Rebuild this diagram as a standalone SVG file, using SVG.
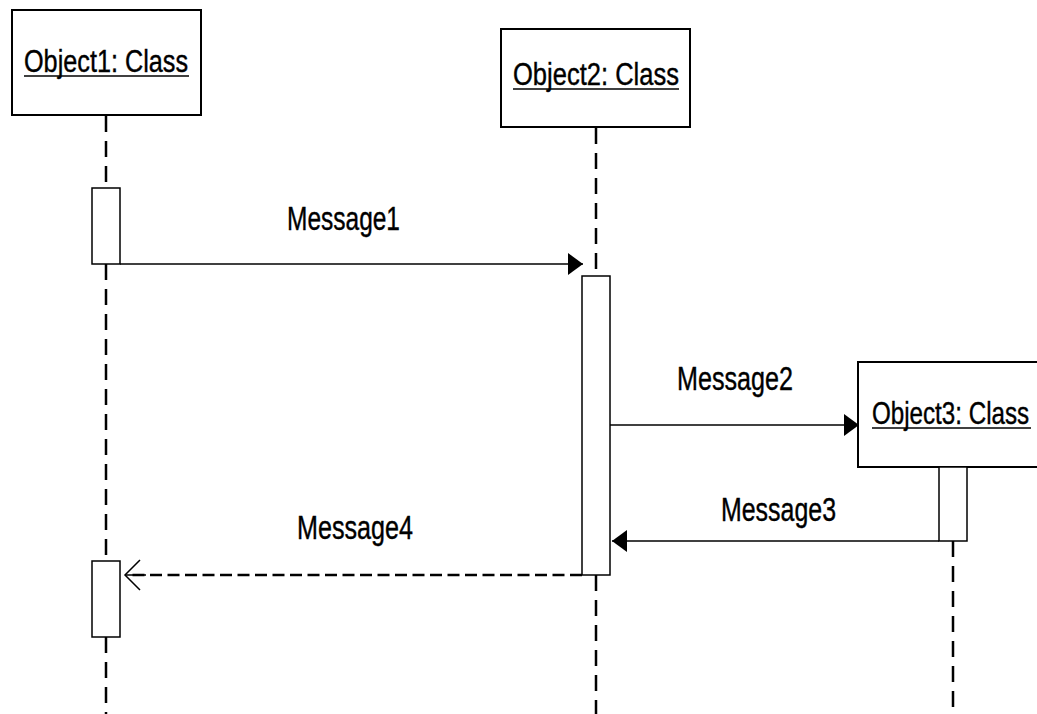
<svg xmlns="http://www.w3.org/2000/svg" width="1037" height="714" viewBox="0 0 1037 714">
  <style>
    .obj { fill: #fff; stroke: #000; stroke-width: 2; }
    .act { fill: #fff; stroke: #000; stroke-width: 1.5; }
    .life { stroke: #000; stroke-width: 2.5; stroke-dasharray: 16 9; fill: none; }
    .msg { stroke: #000; stroke-width: 1.5; fill: none; }
    .ret { stroke: #000; stroke-width: 2.5; stroke-dasharray: 12 5.5; fill: none; }
    .uline { stroke: #000; stroke-width: 1.5; }
    .otxt { font-family: "Liberation Sans", Arial, sans-serif; font-size: 31px; fill: #000; stroke: #000; stroke-width: 0.4; }
    .mtxt { font-family: "Liberation Sans", Arial, sans-serif; font-size: 33px; fill: #000; stroke: #000; stroke-width: 0.4; }
  </style>
  <defs>
    <marker id="filled" markerUnits="userSpaceOnUse" markerWidth="16" markerHeight="22" refX="15" refY="11" orient="auto" viewBox="0 0 16 22">
      <path d="M0,0 L15,11 L0,22 Z" fill="#000"/>
    </marker>
  </defs>

  <!-- lifelines -->
  <g id="lifelines">
    <line class="life" x1="106" y1="116" x2="106" y2="188"/>
    <line class="life" x1="106" y1="264" x2="106" y2="561"/>
    <line class="life" x1="106" y1="637" x2="106" y2="714"/>
    <line class="life" x1="596" y1="128" x2="596" y2="276"/>
    <line class="life" x1="596" y1="575" x2="596" y2="714"/>
    <line class="life" x1="953" y1="541" x2="953" y2="714"/>
  </g>

  <g id="object1">
    <rect class="obj" x="12" y="10" width="189" height="105"/>
    <text class="otxt" x="24" y="72" textLength="164" lengthAdjust="spacingAndGlyphs">Object1: Class</text>
    <line class="uline" x1="24" y1="76" x2="189" y2="76"/>
  </g>

  <g id="object2">
    <rect class="obj" x="501" y="29" width="189" height="98"/>
    <text class="otxt" x="513" y="85" textLength="166" lengthAdjust="spacingAndGlyphs">Object2: Class</text>
    <line class="uline" x1="513" y1="89" x2="679" y2="89"/>
  </g>

  <g id="object3">
    <rect class="obj" x="858" y="362" width="200" height="105"/>
    <text class="otxt" transform="translate(872,424) scale(0.78,1)" x="0" y="0">Object3: Class</text>
    <line class="uline" x1="872" y1="428" x2="1031" y2="428"/>
  </g>

  <g id="activation1a">
    <rect class="act" x="92" y="188" width="28" height="76"/>
  </g>
  <g id="activation1b">
    <rect class="act" x="92" y="561" width="28" height="76"/>
  </g>
  <g id="activation2">
    <rect class="act" x="582" y="276" width="28" height="299"/>
  </g>
  <g id="activation3">
    <rect class="act" x="939" y="467" width="28" height="74"/>
  </g>

  <!-- messages -->
  <g id="connectors">
    <line class="msg" x1="120" y1="264" x2="583" y2="264" marker-end="url(#filled)"/>
    <line class="msg" x1="610" y1="425" x2="859" y2="425" marker-end="url(#filled)"/>
    <line class="msg" x1="939" y1="541" x2="612" y2="541" marker-end="url(#filled)"/>
    <line class="ret" x1="582" y1="575" x2="130" y2="575"/>
    <polyline class="msg" points="140,560 125,575 140,590"/>
    <line class="msg" x1="125" y1="575" x2="146" y2="575"/>
  </g>

  <g id="labels">
    <text class="mtxt" x="287" y="230" textLength="113" lengthAdjust="spacingAndGlyphs">Message1</text>
    <text class="mtxt" x="677" y="390" textLength="116" lengthAdjust="spacingAndGlyphs">Message2</text>
    <text class="mtxt" x="721" y="521" textLength="115" lengthAdjust="spacingAndGlyphs">Message3</text>
    <text class="mtxt" x="297" y="539" textLength="116" lengthAdjust="spacingAndGlyphs">Message4</text>
  </g>
</svg>
